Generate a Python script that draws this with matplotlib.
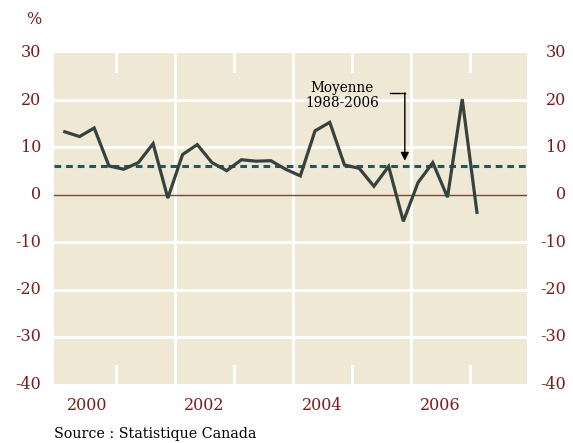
import matplotlib
matplotlib.use("Agg")
import matplotlib.pyplot as plt
import matplotlib.transforms as mtransforms
import numpy as np

# Données trimestrielles (2000T1 - 2007T1), en %
valeurs = [13.3, 12.3, 14.1, 6.1,
           5.4, 6.8, 10.8, -0.7,
           8.5, 10.6, 6.8, 5.1,
           7.4, 7.1, 7.2, 5.4,
           4.0, 13.5, 15.3, 6.3,
           5.6, 1.8, 6.0, -5.6,
           2.6, 6.8, -0.5, 20.2,
           -3.7]
moyenne = 6.1                        # Moyenne 1988-2006
yticks = [30, 20, 10, 0, -10, -20, -30, -40]
etiq_annees = [2000, 2002, 2004, 2006]

# Couleurs
fond     = '#eee8d5'
rouge    = '#7a1c1c'
ligne    = '#38423d'
sarcelle = '#1b5a63'

plt.rcParams['font.family'] = ['DejaVu Serif']

fig = plt.figure(figsize=(5.73, 4.43), dpi=100)
ax = fig.add_axes([54.3/573, 1-384.3/443, (526.7-54.3)/573, (384.3-52.7)/443])
ax.set_facecolor(fond)
for s in ax.spines.values():
    s.set_visible(False)
ax.set_xlim(1999.947, 2007.97)
ax.set_ylim(-40, 30)
ax.set_xticks([])
ax.set_yticks([])

# Grille horizontale blanche
for v in yticks:
    if v != 0 and v not in (30, -40):
        ax.axhline(v, color='white', lw=2.2, zorder=1)
# Grille verticale : années paires pleine hauteur, impaires en petits traits
for a in [2002, 2004, 2006]:
    ax.axvline(a, color='white', lw=2.2, zorder=1)
for a in [2001, 2003, 2005, 2007]:
    ax.axvline(a, ymin=0, ymax=18/331.6, color='white', lw=2.2, zorder=1)
    ax.axvline(a, ymin=1-18/331.6, ymax=1, color='white', lw=2.2, zorder=1)

# Ligne zéro
ax.axhline(0, color='#9b3a32', lw=1.0, zorder=2)

# Moyenne
ax.axhline(moyenne, color=sarcelle, lw=2.2, ls=(0, (2.2, 1.6)), zorder=3)

# Série
x = 2000 + (np.arange(len(valeurs)) + 0.5) / 4.
ax.plot(x, valeurs, color=ligne, lw=2.3, zorder=4, solid_joinstyle='miter')

# Annotation
ax.text(2004.83, 21.0, 'Moyenne\n1988-2006', ha='center', va='center',
        fontsize=9.8, linespacing=1.15, color='black', zorder=5)
ax.plot([2005.65, 2005.9], [21.5, 21.5], color='black', lw=1.0, zorder=5)
ax.annotate('', xy=(2005.9, 7.2), xytext=(2005.9, 21.5),
            arrowprops=dict(arrowstyle='-|>', color='black', lw=1.0,
                            mutation_scale=12, shrinkA=0, shrinkB=0), zorder=5)

# Étiquettes des axes
tg = mtransforms.blended_transform_factory(fig.transFigure, ax.transData)
for v in yticks:
    fig.text(41/573, v, str(v), transform=tg, ha='right', va='center',
             fontsize=11.5, color=rouge)
    fig.text(566/573, v, str(v), transform=tg, ha='right', va='center',
             fontsize=11.5, color=rouge)
tx = mtransforms.blended_transform_factory(ax.transData, fig.transFigure)
for a in etiq_annees:
    fig.text(a + 0.5, 1-406/443, str(a), transform=tx, ha='center', va='center',
             fontsize=11.5, color=rouge)

fig.text(34/573, 1-20/443, '%', ha='center', va='center', fontsize=11.5, color=rouge)
fig.text(54/573, 1-434/443, 'Source : Statistique Canada', ha='left', va='center',
         fontsize=10.3, color='black')

fig.savefig('out.png', dpi=100, facecolor='white')
